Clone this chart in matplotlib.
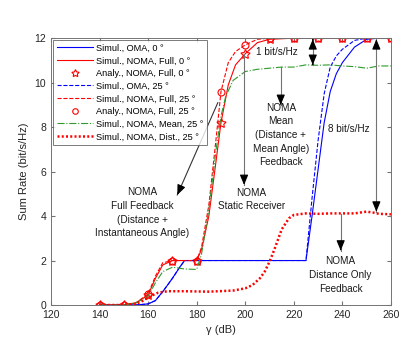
import matplotlib.pyplot as plt
import numpy as np

plt.rcParams['font.family'] = ['Liberation Sans', 'DejaVu Sans']

# simulated curves
x_oma0 = [140, 155, 160, 163, 166, 170, 173, 175, 180, 200, 225, 227.5, 230, 232.5, 235, 237.5, 240, 245, 250, 255, 260]
y_oma0 = [0, 0, 0.05, 0.2, 0.6, 1.2, 1.7, 2.0, 2.0, 2.0, 2.0, 4.0, 6.1, 8.2, 9.6, 10.4, 10.9, 11.6, 11.95, 12, 12]

x_oma25 = [140, 155, 160, 163, 166, 170, 173, 175, 180, 200, 225, 227.5, 230, 232.5, 235, 237.5, 240, 245, 250, 255, 260]
y_oma25 = [0, 0, 0.05, 0.2, 0.6, 1.2, 1.7, 2.0, 2.0, 2.0, 2.0, 4.8, 7.4, 9.5, 10.7, 11.2, 11.5, 11.9, 12, 12, 12]

x_full0 = [140, 150, 155, 160, 163, 166, 170, 180, 182, 185, 188, 190, 193, 196, 200, 205, 210, 220, 260]
y_full0 = [0, 0, 0.1, 0.45, 1.2, 1.8, 2.0, 2.0, 2.5, 4.0, 6.5, 8.2, 9.9, 10.8, 11.3, 11.8, 11.95, 12, 12]

x_full25 = [140, 150, 155, 160, 163, 166, 170, 180, 182, 185, 188, 190, 193, 196, 200, 205, 210, 260]
y_full25 = [0, 0, 0.1, 0.5, 1.3, 1.9, 2.0, 2.0, 2.6, 4.5, 7.5, 9.6, 10.9, 11.4, 11.7, 11.95, 12, 12]

x_mean25 = [140, 150, 155, 160, 163, 166, 170, 175, 180, 182, 185, 188, 190, 192, 195, 200, 205, 210, 215, 220,
            225, 230, 235, 240, 245, 250, 255, 260]
y_mean25 = [0, 0, 0.1, 0.4, 1.0, 1.5, 1.7, 1.62, 1.6, 2.3, 4.3, 7.0, 8.5, 9.4, 10.1, 10.5, 10.6, 10.65, 10.7, 10.7,
            10.8, 10.78, 10.8, 10.75, 10.72, 10.65, 10.75, 10.75]

x_dist25 = [140, 150, 155, 158, 161, 164, 168, 175, 185, 195, 200, 203, 206, 208, 210, 212, 215, 218, 220, 225,
            230, 235, 240, 245, 250, 253, 255, 260]
y_dist25 = [0, 0, 0.05, 0.2, 0.4, 0.55, 0.62, 0.62, 0.6, 0.65, 0.75, 0.9, 1.2, 1.5, 1.95, 2.5, 3.4, 3.9, 4.05, 4.12,
            4.1, 4.12, 4.12, 4.12, 4.2, 4.15, 4.1, 4.08]

# analytical points
x_ana = [140, 150, 160, 170, 180, 190, 200, 210, 220, 230, 240, 250, 260]
y_ana0 = [0, 0, 0.45, 2.0, 2.0, 8.2, 11.3, 11.95, 12, 12, 12, 12, 12]
y_ana25 = [0, 0, 0.5, 2.0, 2.0, 9.6, 11.7, 12, 12, 12, 12, 12, 12]

fig = plt.figure(figsize=(4.15, 3.47), dpi=100)
ax = fig.add_axes([0.123, 0.121, 0.819, 0.769])

deg = ' °'
star = (5, 1, 0)
ax.plot(x_oma0, y_oma0, '-', color='b', lw=0.8, label='Simul., OMA, 0' + deg)
ax.plot(x_full0, y_full0, '-', color='r', lw=0.8, label='Simul., NOMA, Full, 0' + deg)
ax.plot(x_ana, y_ana0, ls='none', marker=star, color='r', mfc='none', ms=7, mew=0.8,
        label='Analy., NOMA, Full, 0' + deg)
ax.plot(x_oma25, y_oma25, '--', color='b', lw=0.8, label='Simul., OMA, 25' + deg)
ax.plot(x_full25, y_full25, '--', color='r', lw=0.8, label='Simul., NOMA, Full, 25' + deg)
ax.plot(x_ana, y_ana25, 'o', color='r', mfc='none', ms=5, mew=0.8, label='Analy., NOMA, Full, 25' + deg)
ax.plot(x_mean25, y_mean25, '-.', color='#2e9a2e', lw=0.8, label='Simul., NOMA, Mean, 25' + deg)
ax.plot(x_dist25, y_dist25, ls=(0, (0.8, 0.9)), color='r', lw=1.8, label='Simul., NOMA, Dist., 25' + deg)

ax.set_xlim(120, 260)
ax.set_ylim(0, 12)
ax.set_xticks(np.arange(120, 261, 20))
ax.set_yticks(np.arange(0, 13, 2))
ax.tick_params(direction='in', top=True, right=True, labelsize=7.5, length=3, color='0.45', labelcolor='0.15')
for s in ax.spines.values():
    s.set_color('0.45')
    s.set_linewidth(0.7)
ax.set_xlabel('\u03b3 (dB)', fontsize=8, color='0.15')
ax.set_ylabel('Sum Rate (bit/s/Hz)', fontsize=8, color='0.15')

leg = ax.legend(loc='upper left', fontsize=6.6, frameon=True, fancybox=False, edgecolor='0.35',
                borderaxespad=0.25, handlelength=4.0, handletextpad=0.3, labelspacing=0.4,
                borderpad=0.35, markerscale=0.8)
leg.get_frame().set_linewidth(0.7)


def arrow(x0, y0, x1, y1, lc='0.45'):
    ax.plot([x0, x1], [y0, y1], color=lc, lw=0.8)
    ax.annotate('', xy=(x1, y1), xytext=(x0 + 0.97 * (x1 - x0), y0 + 0.97 * (y1 - y0)),
                arrowprops=dict(arrowstyle='-|>,head_length=0.6,head_width=0.25', color='k', lw=0.8,
                                shrinkA=0, shrinkB=0))


def darrow(x0, y0, x1, y1):
    arrow(x0, (y0 + y1) / 2, x0, y0)
    arrow(x1, (y0 + y1) / 2, x1, y1)


tkw = dict(fontsize=7.2, ha='center', va='center', color='0.1', linespacing=1.45)

# 1 bit/s/Hz
darrow(227.8, 11.95, 227.8, 10.8)
ax.text(213, 11.4, '1 bit/s/Hz', **tkw)

# 8 bit/s/Hz
darrow(254, 11.95, 254, 4.2)
ax.text(242.5, 7.9, '8 bit/s/Hz', **tkw)

# mean feedback
arrow(214.6, 10.7, 214.6, 9.0)
ax.text(214.6, 7.65, 'NOMA\nMean\n(Distance +\nMean Angle)\nFeedback', **tkw)

# static receiver
arrow(199.5, 11.3, 199.5, 5.4)
ax.text(202.5, 4.75, 'NOMA\nStatic Receiver', **tkw)

# full feedback
arrow(188.7, 9.1, 172, 4.95, lc='0.2')
ax.text(157.5, 4.15, 'NOMA\nFull Feedback\n(Distance +\nInstantaneous Angle)', **tkw)

# distance only
arrow(239.3, 4.1, 239.3, 2.45)
ax.text(239.3, 1.35, 'NOMA\nDistance Only\nFeedback', **tkw)

fig.savefig('out.png', dpi=100)
